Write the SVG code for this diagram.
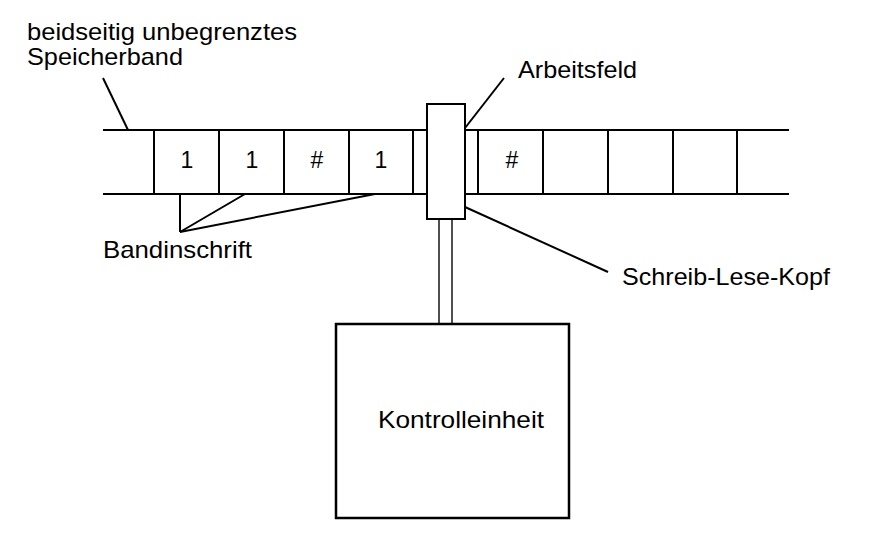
<svg xmlns="http://www.w3.org/2000/svg" width="878" height="560" viewBox="0 0 878 560">
<style>
.ln{stroke:#000;stroke-width:2;fill:none}
.box{stroke:#000;stroke-width:2;fill:#fff}
.sh{stroke:#222;stroke-width:1.6;fill:none}
text{font-family:"Liberation Sans",Arial,Helvetica,sans-serif;font-size:24px;fill:#000}
.c{text-anchor:middle;font-size:23px}
</style>
<rect width="878" height="560" fill="#fff"/>
<g id="tape">
<line class="ln" x1="103" y1="130" x2="789" y2="130"/>
<line class="ln" x1="103" y1="194" x2="789" y2="194"/>
<line class="ln" x1="154" y1="130" x2="154" y2="194"/>
<line class="ln" x1="219" y1="130" x2="219" y2="194"/>
<line class="ln" x1="284" y1="130" x2="284" y2="194"/>
<line class="ln" x1="349" y1="130" x2="349" y2="194"/>
<line class="ln" x1="413" y1="130" x2="413" y2="194"/>
<line class="ln" x1="478" y1="130" x2="478" y2="194"/>
<line class="ln" x1="543" y1="130" x2="543" y2="194"/>
<line class="ln" x1="608" y1="130" x2="608" y2="194"/>
<line class="ln" x1="673" y1="130" x2="673" y2="194"/>
<line class="ln" x1="737" y1="130" x2="737" y2="194"/>
<text class="c" x="187" y="168">1</text>
<text class="c" x="252" y="168">1</text>
<text class="c" x="317" y="168">#</text>
<text class="c" x="381" y="168">1</text>
<text class="c" x="512" y="168">#</text>
</g>
<g id="shaft">
<line class="sh" x1="439" y1="219" x2="439" y2="324"/>
<line class="sh" x1="452" y1="219" x2="452" y2="324"/>
</g>
<g id="head">
<rect class="box" x="427" y="104" width="38" height="115"/>
</g>
<g id="control">
<rect class="box" x="336" y="324" width="233" height="194" style="stroke-width:2.5"/>
<text x="378" y="428" textLength="166" lengthAdjust="spacingAndGlyphs">Kontrolleinheit</text>
</g>
<g id="connectors">
<line class="ln" x1="103" y1="78" x2="128" y2="130"/>
<line class="ln" x1="465" y1="128" x2="504" y2="78"/>
<line class="ln" x1="465" y1="207" x2="608" y2="272"/>
<line class="ln" x1="180" y1="194" x2="180" y2="232"/>
<line class="ln" x1="180" y1="232" x2="245" y2="194"/>
<line class="ln" x1="180" y1="232" x2="375" y2="194"/>
</g>
<g id="labels">
<text x="27" y="40" textLength="270" lengthAdjust="spacingAndGlyphs">beidseitig unbegrenztes</text>
<text x="27" y="65" textLength="156" lengthAdjust="spacingAndGlyphs">Speicherband</text>
<text x="518" y="78" textLength="119" lengthAdjust="spacingAndGlyphs">Arbeitsfeld</text>
<text x="622" y="285" textLength="208" lengthAdjust="spacingAndGlyphs">Schreib-Lese-Kopf</text>
<text x="103" y="258" textLength="149" lengthAdjust="spacingAndGlyphs">Bandinschrift</text>
</g>
</svg>
